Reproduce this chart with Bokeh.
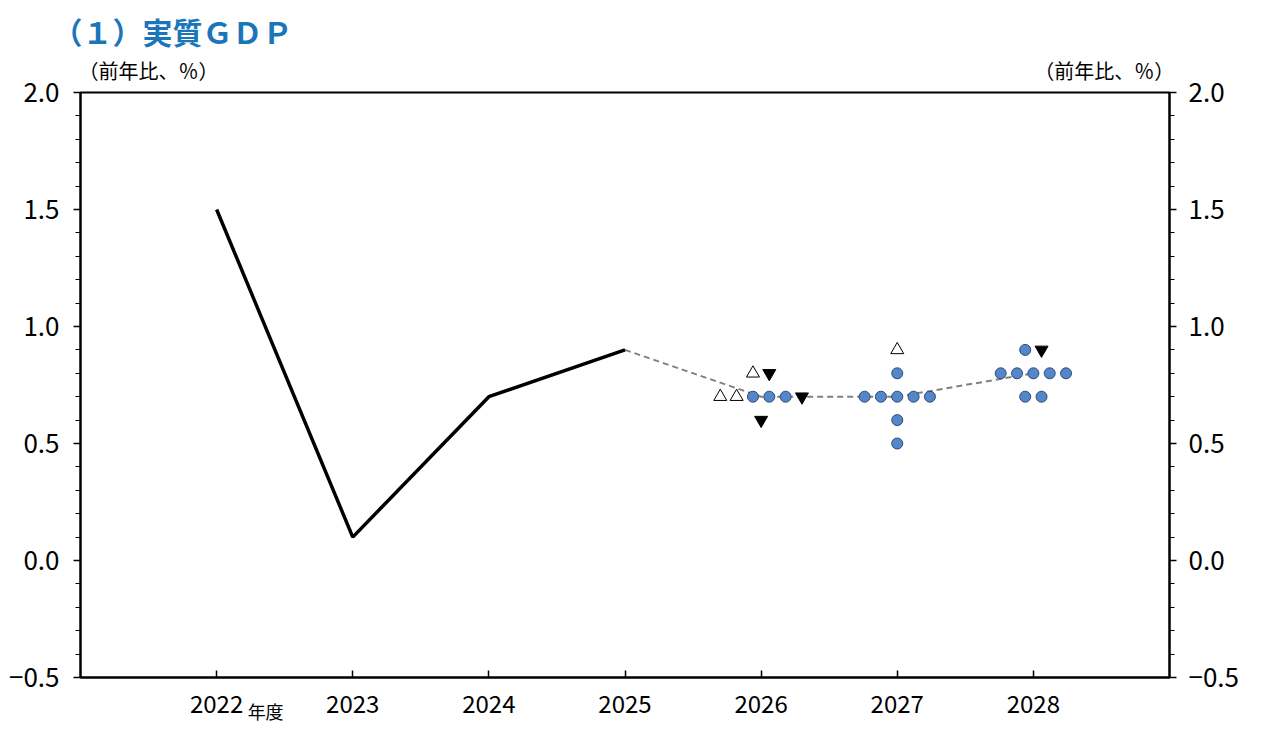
from bokeh.plotting import figure
from bokeh.models import (Range1d, LinearAxis, FixedTicker, ColumnDataSource)
from bokeh.embed import file_html
from bokeh.resources import INLINE

# ---- data ----
years_actual = [2022, 2023, 2024, 2025]
gdp_actual = [1.5, 0.1, 0.7, 0.9]
years_median = [2025, 2026, 2027, 2028]
gdp_median = [0.9, 0.7, 0.7, 0.8]

fy2026_values = [0.8, 0.8, 0.7, 0.7, 0.7, 0.7, 0.7, 0.7, 0.6]
fy2026_risks = ["up", "down", "up", "up", "bal", "bal", "bal", "down", "down"]
fy2027_values = [0.9, 0.8, 0.7, 0.7, 0.7, 0.7, 0.7, 0.6, 0.5]
fy2027_risks = ["up", "bal", "bal", "bal", "bal", "bal", "bal", "bal", "bal"]
fy2028_values = [0.9, 0.9, 0.8, 0.8, 0.8, 0.8, 0.8, 0.7, 0.7]
fy2028_risks = ["bal", "down", "bal", "bal", "bal", "bal", "bal", "bal", "bal"]

x_ticks = [2022, 2023, 2024, 2025, 2026, 2027, 2028]
y_ticks = [-0.5, 0.0, 0.5, 1.0, 1.5, 2.0]
y_tick_labels = ["\u22120.5", "0.0", "0.5", "1.0", "1.5", "2.0"]

title_text = "（１）実質ＧＤＰ"
unit_text = "（前年比、％）"
fy_text = "年度"

TEXT_FONT = "Noto Sans CJK JP"

p = figure(width=1272, height=742, output_backend="svg", toolbar_location=None,
           x_range=Range1d(2021, 2029), y_range=Range1d(-0.5, 2.0),
           min_border_left=80, min_border_right=103, min_border_top=92,
           min_border_bottom=65)
p.background_fill_color = "white"
p.border_fill_color = "white"
p.outline_line_color = "black"
p.outline_line_width = 2
p.xgrid.visible = False
p.ygrid.visible = False

# title
p.title.text = title_text
p.title.text_font = TEXT_FONT
p.title.text_font_size = "30px"
p.title.text_font_style = "bold"
p.title.text_color = "#1b75bb"
p.title.align = "left"
p.title.offset = -28
p.title.standoff = 0

# x axis
xa = p.xaxis[0]
xa.ticker = FixedTicker(ticks=x_ticks)
xa.major_label_overrides = {t: str(t) for t in x_ticks}
xa.major_tick_in = 7
xa.major_tick_out = 0
xa.minor_tick_line_color = None
xa.axis_line_width = 2
xa.major_tick_line_width = 1.5
xa.major_label_text_font = TEXT_FONT
xa.major_label_text_font_size = "24px"
xa.major_label_text_color = "black"
xa.major_label_standoff = 17

minor = [round(-0.5 + 0.1 * i, 1) for i in range(26)]


def style_y(ax, standoff):
    ax.ticker = FixedTicker(ticks=y_ticks, minor_ticks=minor)
    ax.major_label_overrides = {t: l for t, l in zip(y_ticks, y_tick_labels)}
    ax.major_tick_in = 0
    ax.major_tick_out = 7
    ax.minor_tick_in = 0
    ax.minor_tick_out = 5
    ax.axis_line_width = 2
    ax.major_tick_line_width = 1.5
    ax.minor_tick_line_width = 1.2
    ax.major_label_text_font = TEXT_FONT
    ax.major_label_text_font_size = "26px"
    ax.major_label_text_color = "black"
    ax.major_label_standoff = standoff


style_y(p.yaxis[0], 14)
ra = LinearAxis()
style_y(ra, 12)
p.add_layout(ra, "right")


def text_axis(positions, text, size, standoff):
    ax = LinearAxis(ticker=FixedTicker(ticks=positions, minor_ticks=[]),
                    major_label_overrides={t: text for t in positions})
    ax.axis_line_color = None
    ax.major_tick_line_color = None
    ax.minor_tick_line_color = None
    ax.major_label_text_font = TEXT_FONT
    ax.major_label_text_font_size = size
    ax.major_label_text_color = "black"
    ax.major_label_standoff = standoff
    return ax


# unit captions above the frame, near each y axis
p.add_layout(text_axis([2021.5, 2028.52], unit_text, "20px", 2), "above")
# fiscal-year caption next to the first tick label
p.add_layout(text_axis([2022.36], fy_text, "18px", -24), "below")

# lines
p.line(years_median, gdp_median, line_color="#808080", line_width=2, line_dash="6 4")
p.line(years_actual, gdp_actual, line_color="black", line_width=3.5)

# board member forecasts, dodged horizontally within each (year, value) row
order = {"up": 0, "bal": 1, "down": 2}
step = 0.12
xs, ys, kinds = [], [], []
for yr, vals, risks in [(2026, fy2026_values, fy2026_risks),
                        (2027, fy2027_values, fy2027_risks),
                        (2028, fy2028_values, fy2028_risks)]:
    rows = {}
    for v, r in zip(vals, risks):
        rows.setdefault(v, []).append(r)
    for v, rs in rows.items():
        rs = sorted(rs, key=lambda k: order[k])
        n = len(rs)
        for i, r in enumerate(rs):
            xs.append(yr + (i - (n - 1) / 2) * step)
            ys.append(v)
            kinds.append(r)


def subset(kind):
    return ColumnDataSource(dict(x=[x for x, k in zip(xs, kinds) if k == kind],
                                 y=[y for y, k in zip(ys, kinds) if k == kind]))


p.scatter("x", "y", source=subset("bal"), marker="circle", size=11,
          fill_color="#5487c8", line_color="#2a4a78", line_width=1)
p.scatter("x", "y", source=subset("up"), marker="triangle", size=13,
          fill_color="white", line_color="black", line_width=1)
p.scatter("x", "y", source=subset("down"), marker="inverted_triangle", size=13,
          fill_color="black", line_color="black", line_width=1)

open("out.html", "w").write(file_html(p, INLINE))
